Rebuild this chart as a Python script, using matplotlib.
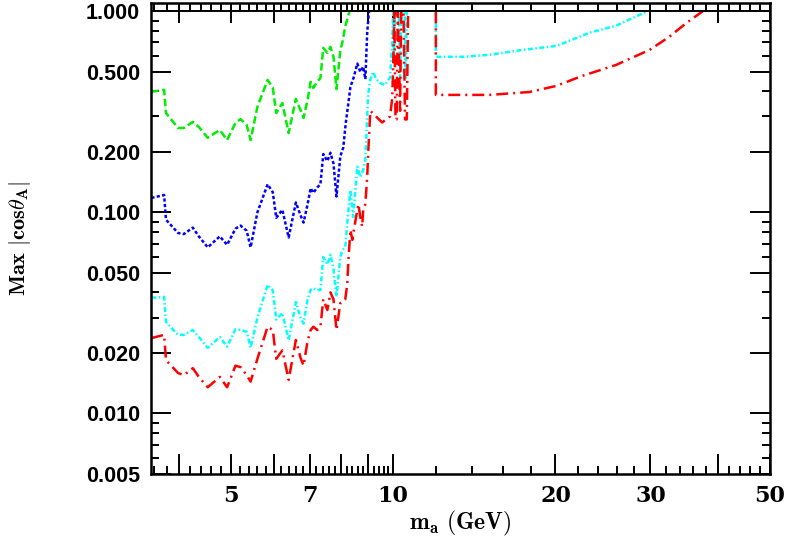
import numpy as np
import matplotlib
matplotlib.use("Agg")
import matplotlib.pyplot as plt

plt.rcParams['mathtext.fontset'] = 'cm'

# shared mass grid for the low-mass part of all curves (GeV)
ma_lo = [3.56, 3.76, 3.79, 3.99, 4.09, 4.25, 4.36, 4.53, 4.77, 4.92,
         5.10, 5.21, 5.35, 5.44, 5.60, 5.85, 5.98, 6.07, 6.23, 6.40,
         6.60, 6.73, 6.82, 6.94, 7.03, 7.11, 7.23, 7.33, 7.42, 7.55,
         7.65, 7.75, 7.85, 7.98]

green_lo = [0.398, 0.407, 0.312, 0.263, 0.263, 0.282, 0.266, 0.235, 0.257, 0.229,
            0.279, 0.291, 0.272, 0.229, 0.335, 0.456, 0.416, 0.312, 0.350, 0.248,
            0.367, 0.323, 0.295, 0.363, 0.446, 0.416, 0.446, 0.466, 0.658, 0.621,
            0.666, 0.594, 0.410, 0.643]
green_tail_x = [8.05, 8.15, 8.30]
green_tail_y = [0.70, 0.84, 1.0]

blue_lo = [0.118, 0.122, 0.092, 0.079, 0.078, 0.084, 0.076, 0.067, 0.076, 0.069,
           0.083, 0.086, 0.081, 0.067, 0.100, 0.138, 0.126, 0.094, 0.103, 0.075,
           0.112, 0.097, 0.089, 0.110, 0.132, 0.125, 0.133, 0.138, 0.195, 0.180,
           0.198, 0.175, 0.120, 0.190]
blue_tail_x = [8.08, 8.17, 8.26, 8.33, 8.45, 8.58, 8.69, 8.80, 8.88, 8.95, 9.02]
blue_tail_y = [0.21, 0.28, 0.35, 0.42, 0.47, 0.55, 0.50, 0.53, 0.46, 0.78, 1.0]

cyan_lo = [0.0376, 0.038, 0.0285, 0.0246, 0.0246, 0.026, 0.024, 0.0212, 0.024, 0.0215,
           0.0262, 0.026, 0.0255, 0.0212, 0.030, 0.0436, 0.041, 0.0293, 0.0316, 0.0231,
           0.0358, 0.030, 0.028, 0.037, 0.0412, 0.042, 0.041, 0.0412, 0.060, 0.055,
           0.0616, 0.052, 0.038, 0.060]
cyan_tail_x = [8.05, 8.15, 8.26, 8.33, 8.43, 8.58, 8.69, 8.80, 8.88, 8.95, 8.99,
               9.07, 9.18, 9.30, 9.46, 9.66, 9.87, 9.96, 10.0, 10.04, 10.08,
               10.25, 10.30, 10.35, 10.50, 10.55, 10.60]
cyan_tail_y = [0.065, 0.067, 0.103, 0.129, 0.095, 0.169, 0.150, 0.162, 0.182, 0.30, 0.39,
               0.456, 0.50, 0.46, 0.44, 0.43, 0.47, 0.70, 1.0, 0.55, 1.0,
               1.0, 0.46, 1.0, 1.0, 0.46, 1.0]

red_lo = [0.0237, 0.0246, 0.0184, 0.0159, 0.0155, 0.0168, 0.0152, 0.0135, 0.0152, 0.0135,
          0.0173, 0.017, 0.0155, 0.0144, 0.0187, 0.027, 0.026, 0.0187, 0.0206, 0.0147,
          0.0232, 0.019, 0.0173, 0.023, 0.026, 0.027, 0.026, 0.027, 0.037, 0.0327,
          0.040, 0.037, 0.026, 0.0354]
red_tail_x = [8.08, 8.15, 8.22, 8.26, 8.33, 8.40, 8.43, 8.58, 8.62, 8.69, 8.76,
              8.80, 8.88, 8.95, 8.99, 9.03, 9.07, 9.18, 9.54, 9.87, 9.96, 10.0,
              10.05, 10.10, 10.15, 10.20, 10.30, 10.35, 10.45, 10.52, 10.60, 10.66]
red_tail_y = [0.036, 0.037, 0.044, 0.058, 0.082, 0.073, 0.078, 0.103, 0.110, 0.095, 0.085,
              0.103, 0.110, 0.150, 0.198, 0.25, 0.32, 0.31, 0.28, 0.30, 0.37, 0.53,
              1.0, 0.29, 0.29, 1.0, 0.32, 1.0, 1.0, 0.29, 0.29, 1.0]

# above the Upsilon region
cyan_hi_x = [12.0, 12.0, 13.5, 15.1, 17.4, 20.1, 23.1, 25.9, 29.6]
cyan_hi_y = [1.0, 0.594, 0.594, 0.608, 0.643, 0.673, 0.782, 0.848, 1.0]
red_hi_x = [12.0, 12.0, 15.1, 17.9, 20.1, 22.4, 25.9, 29.9, 32.5, 35.0, 37.5]
red_hi_y = [1.0, 0.384, 0.384, 0.397, 0.426, 0.477, 0.541, 0.643, 0.746, 0.876, 1.0]

xmajor = [4, 5, 6, 7, 8, 9, 10, 20, 30, 40, 50]
xlabels = ['', '5', '', '7', '', '', '10', '20', '30', '', '50']
ymajor = [0.005, 0.01, 0.02, 0.05, 0.1, 0.2, 0.5, 1.0]
ylabels = ['0.005', '0.010', '0.020', '0.050', '0.100', '0.200', '0.500', '1.000']
yminor = [0.006, 0.007, 0.008, 0.009, 0.03, 0.04, 0.06, 0.07, 0.08, 0.09,
          0.3, 0.4, 0.6, 0.7, 0.8, 0.9]

fig = plt.figure(figsize=(7.88, 5.40), dpi=100)
ax = fig.add_axes([151 / 788, 1 - 474 / 540, 619 / 788, 471 / 540])

lw = 1.8
ax.plot(ma_lo + green_tail_x, green_lo + green_tail_y, color='#00ee00', lw=lw, dashes=(3.0, 1.4))
ax.plot(ma_lo + blue_tail_x, blue_lo + blue_tail_y, color='#0000ff', lw=lw, dashes=(1.3, 0.9))
ax.plot(ma_lo + cyan_tail_x, cyan_lo + cyan_tail_y, color='#00ffff', lw=lw, dashes=(2.0, 1.0, 0.6, 1.0))
ax.plot(cyan_hi_x, cyan_hi_y, color='#00ffff', lw=lw, dashes=(2.0, 1.0, 0.6, 1.0))
ax.plot(ma_lo + red_tail_x, red_lo + red_tail_y, color='#ff0000', lw=lw, dashes=(4.8, 2.0, 0.8, 2.0))
ax.plot(red_hi_x, red_hi_y, color='#ff0000', lw=lw, dashes=(4.8, 2.0, 0.8, 2.0))

ax.axhline(1.0, color='k', lw=1.4, zorder=5)

ax.set_xscale('log')
ax.set_yscale('log')
ax.set_xlim(3.555, 50)
ax.set_ylim(0.005, 1.1)

xminor = [v for v in np.round(np.arange(3.6, 10.0, 0.2), 1) if v % 1 != 0]
xminor += [v for v in range(12, 50, 2) if v % 10 != 0]
ax.set_xticks(xmajor, labels=xlabels)
ax.set_xticks(xminor, minor=True)
ax.set_yticks(ymajor, labels=ylabels)
ax.set_yticks(yminor, minor=True)
ax.xaxis.set_minor_formatter(matplotlib.ticker.NullFormatter())
ax.yaxis.set_minor_formatter(matplotlib.ticker.NullFormatter())

ax.tick_params(which='both', direction='in', top=True, right=True, width=1.4, colors='k')
ax.tick_params(which='major', length=14.5)
ax.tick_params(which='minor', length=6)
ax.tick_params(axis='x', which='major', labelsize=16, pad=8)
ax.tick_params(axis='y', which='major', labelsize=15.5, pad=8)
for t in ax.get_xticklabels():
    t.set_family('DejaVu Serif')
    t.set_weight('bold')
for t in ax.get_yticklabels():
    t.set_family('Liberation Sans')
    t.set_weight('bold')

for s in ax.spines.values():
    s.set_linewidth(1.8)

ax.set_xlabel(r'$\mathbf{m_a\ (GeV)}$', fontsize=17)
ax.xaxis.set_label_coords(0.5, -0.075)
ax.set_ylabel(r'$\mathbf{Max\ |cos}\theta_\mathbf{A}\mathbf{|}$', fontsize=16)
ax.yaxis.set_label_coords(-0.19, 0.5)

fig.savefig('out.png', dpi=100)
